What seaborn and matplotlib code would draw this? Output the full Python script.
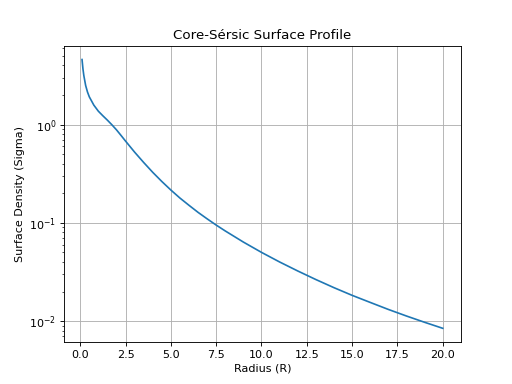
import matplotlib
matplotlib.use("Agg")
import matplotlib.pyplot as plt
import seaborn as sns
import pandas as pd

radius = [0.1, 0.15, 0.2, 0.3, 0.4, 0.5, 0.75, 1.0, 1.25, 1.5, 1.75, 2.0, 2.25, 2.5, 3.0, 3.5,
          4.0, 4.5, 5.0, 5.5, 6.0, 6.5, 7.0, 7.5, 8.0, 9.0, 10.0, 11.0, 12.0, 13.0,
          14.0, 15.0, 16.0, 17.0, 18.0, 19.0, 20.0]
sigma = [4.6, 3.7, 3.15, 2.5, 2.15, 1.92, 1.58, 1.37, 1.23, 1.11, 0.995, 0.885, 0.777, 0.68, 0.525, 0.412,
         0.327, 0.264, 0.216, 0.179, 0.151, 0.128, 0.110, 0.095, 0.0828, 0.0638, 0.0501, 0.040,
         0.0324, 0.0265, 0.0219, 0.0183, 0.0155, 0.01315, 0.01127, 0.00973, 0.00845]

df = pd.DataFrame({"Radius": radius, "Sigma": sigma})

fig, ax = plt.subplots(figsize=(6.4, 4.8), dpi=80)
sns.lineplot(data=df, x="Radius", y="Sigma", ax=ax, color="#1f77b4")
ax.set_yscale("log")
ax.grid(True, which="major")
ax.set_title("Core-Sérsic Surface Profile")
ax.set_xlabel("Radius (R)")
ax.set_ylabel("Surface Density (Sigma)")
fig.savefig("out.png", dpi=80)
